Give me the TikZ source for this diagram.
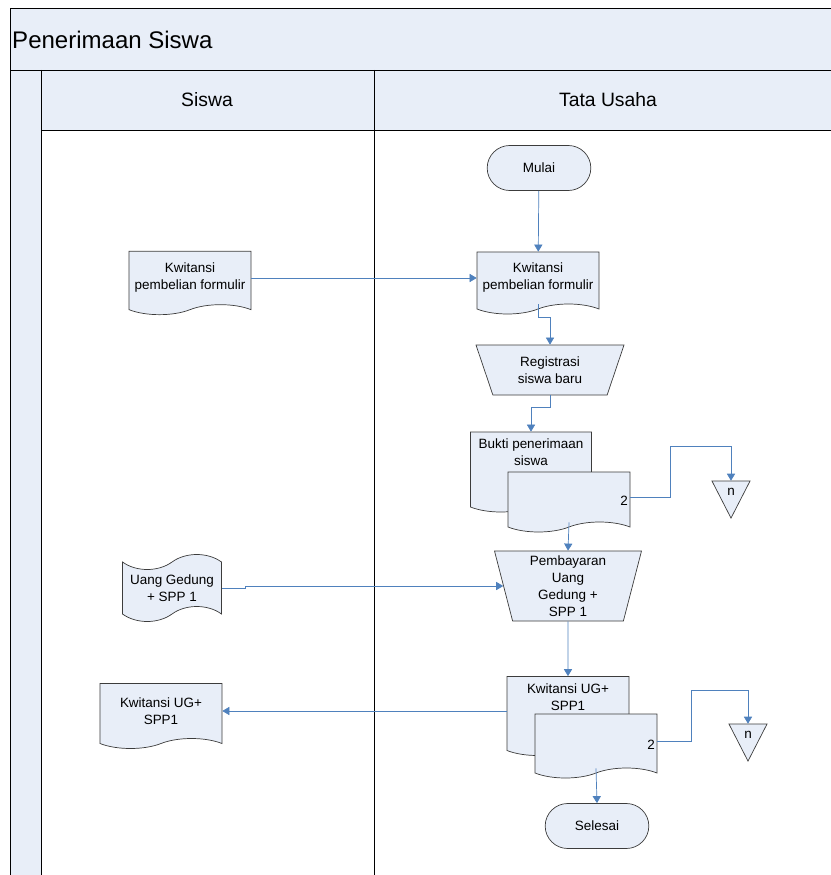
\documentclass[tikz,border=0pt]{standalone}
\usepackage{fontspec}
\setmainfont{Liberation Sans}
\usetikzlibrary{arrows.meta,positioning,shapes.geometric,shapes.misc,shapes.symbols}

\definecolor{lanefill}{RGB}{232,238,248}
\definecolor{flowblue}{RGB}{79,129,189}
\definecolor{edgegray}{RGB}{60,60,60}

\tikzset{
  shapebase/.style={draw=edgegray, fill=lanefill, line width=0.6pt, align=center,
    inner sep=1pt, font=\fontsize{11.5}{14.5}\selectfont},
  every label/.style={font=\fontsize{11.5}{14.5}\selectfont, align=center, inner sep=2pt},
  doctitle/.style={anchor=north, yshift=-0.15cm},
  docnum/.style={anchor=east, yshift=-0.12cm},
  terminal/.style={shapebase, rounded rectangle, minimum width=3.18cm, minimum height=1.35cm},
  document/.style={shapebase, tape, tape bend top=none, tape bend bottom=in and out,
    tape bend height=0.3cm, minimum width=3.66cm},
  inputtape/.style={shapebase, tape, tape bend height=0.45cm, minimum width=2.97cm, minimum height=2.01cm},
  manualop/.style={shapebase, trapezium, shape border rotate=180, trapezium stretches body},
  offpage/.style={shapebase, isosceles triangle, shape border rotate=-90,
    isosceles triangle stretches, inner sep=0pt, minimum width=1.14cm, minimum height=1.11cm},
  flow/.style={draw=flowblue, line width=0.6pt, -{Triangle[width=7pt,length=6pt]}},
  lanetitle/.style={font=\fontsize{16.5}{20}\selectfont},
}

\begin{document}
\begin{tikzpicture}[x=0.03cm, y=-0.03cm]
  \useasboundingbox (0,0) rectangle (830,875);

  %%% pool and lanes
  \fill[lanefill] (10,8) rectangle (842,70);
  \fill[lanefill] (41,70) rectangle (842,130);
  \fill[lanefill] (10,70) rectangle (41,885);
  \draw[line width=0.6pt] (10,885) -- (10,8) -- (842,8) -- (842,885);
  \draw[line width=0.6pt] (10,70) -- (842,70);
  \draw[line width=0.6pt] (41,130) -- (842,130);
  \draw[line width=0.6pt] (41,70) -- (41,885);
  \draw[line width=0.6pt] (374,70) -- (374,885);

  \node[anchor=west, inner sep=0pt, font=\fontsize{20.5}{24}\selectfont] (pool) at (12,40) {Penerimaan Siswa};
  \node[lanetitle] (siswa) at (207,100) {Siswa};
  \node[lanetitle] (tu) at (608,100) {Tata Usaha};

  %%% Tata Usaha
  \node[terminal] (mulai) at (539,168) {Mulai};
  \node[document, minimum height=1.86cm] (kwtu) at (538,278) {Kwitansi\\pembelian formulir};
  \node[manualop, trapezium left angle=60, trapezium right angle=60,
        minimum width=4.44cm, minimum height=1.5cm] (regis) at (550,370) {Registrasi\\siswa baru};

  \node[document, minimum width=3.63cm, minimum height=2.4cm,
        label={[doctitle]north:Bukti penerimaan\\siswa}] (bukti) at (531,467) {};
  \node[document, minimum height=1.8cm, label={[docnum]east:2}] (bukti2) at (569,497) {};
  \node[offpage, anchor=apex] (n1) at (731,519) {n};

  \node[manualop, trapezium left angle=74, trapezium right angle=74,
        minimum width=4.41cm, minimum height=2.1cm] (bayar) at (568,586) {Pembayaran\\Uang\\Gedung +\\SPP 1};

  \node[document, minimum height=2.37cm,
        label={[doctitle]north:Kwitansi UG+\\SPP1}] (kwugtu) at (568,711) {};
  \node[document, minimum height=1.92cm, label={[docnum]east:2}] (kwugtu2) at (596,741) {};
  \node[offpage, anchor=apex] (n2) at (748,762) {n};

  \node[terminal] (selesai) at (597,826) {Selesai};

  %%% Siswa
  \node[document, minimum height=1.9cm] (kwsis) at (190,278) {Kwitansi\\pembelian formulir};
  \node[inputtape] (ug) at (172,588) {Uang Gedung\\+ SPP 1};
  \node[document, minimum height=1.95cm] (kwug) at (161,711) {Kwitansi UG+\\SPP1};

  %%% connectors
  \draw[flow] (mulai) -- (kwtu);
  \draw[flow] (kwsis.east) -- (kwtu.west);
  \draw[flow] (kwtu.south) -- ++(0,13) -| (regis.north);
  \draw[flow] (regis.south) -- ++(0,12) -| (bukti.north);
  \draw[flow] (bukti2.east) -- ++(40,0) -- ++(0,-51) -| (n1.north);
  \draw[flow] (bukti2.south) -- (bayar.north);
  \draw[flow] (ug.east) -- ++(23,0) |- (bayar.west);
  \draw[flow] (bayar.south) -- (kwugtu.north);
  \draw[flow] (kwugtu.west) -- (kwug.east);
  \draw[flow] (kwugtu2.east) -- ++(34,0) -- ++(0,-51) -| (n2.north);
  \draw[flow] (kwugtu2.south) -- (selesai.north);
\end{tikzpicture}
\end{document}
